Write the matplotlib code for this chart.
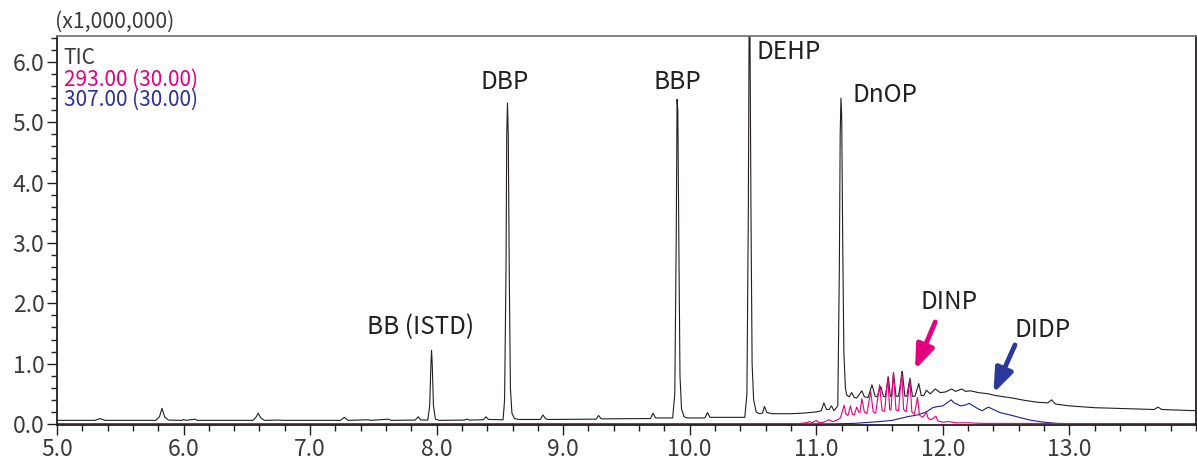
import matplotlib
matplotlib.use("Agg")
import matplotlib.pyplot as plt
from matplotlib.ticker import MultipleLocator, FormatStrFormatter

plt.rcParams['font.family'] = ['Noto Sans CJK JP', 'DejaVu Sans']

# TIC trace (retention time in min, intensity x1,000,000)
tic_t = [5.00, 5.30, 5.34, 5.38, 5.78, 5.81, 5.83, 5.85, 5.88, 5.99, 6.00, 6.02, 6.09, 6.11,
         6.55, 6.575, 6.59, 6.61, 6.64, 6.75, 6.80, 7.24, 7.27, 7.30, 7.46, 7.48, 7.62, 7.64,
         7.83, 7.855, 7.875, 7.93, 7.945, 7.955, 7.96, 7.965, 7.975, 7.99, 8.02,
         8.22, 8.24, 8.26, 8.37, 8.39, 8.41,
         8.525, 8.537, 8.548, 8.554, 8.56, 8.566, 8.574, 8.583, 8.595, 8.615, 8.65,
         8.82, 8.84, 8.86, 8.88, 9.26, 9.28, 9.30, 9.69, 9.71, 9.73,
         9.865, 9.882, 9.893, 9.90, 9.906, 9.914, 9.923, 9.935, 9.955, 9.98,
         10.12, 10.14, 10.16,
         10.435, 10.452, 10.463, 10.47, 10.476, 10.484, 10.493, 10.505, 10.525, 10.55,
         10.575, 10.59, 10.61, 10.65, 10.80, 10.90, 11.00, 11.04, 11.06, 11.08, 11.10,
         11.12, 11.14, 11.17, 11.182, 11.189, 11.195, 11.201, 11.209, 11.218, 11.23,
         11.24, 11.26, 11.28, 11.30, 11.32, 11.36, 11.38, 11.41, 11.44, 11.465, 11.48,
         11.51, 11.53, 11.545, 11.57, 11.585, 11.595, 11.61, 11.63, 11.65, 11.68, 11.70,
         11.715, 11.74, 11.76, 11.78, 11.81, 11.83, 11.85, 11.87, 11.90, 11.94, 11.98,
         12.02, 12.07, 12.10, 12.15, 12.18, 12.22, 12.28, 12.36, 12.42, 12.55, 12.65,
         12.75, 12.83, 12.86, 12.89, 13.00, 13.20, 13.50, 13.67, 13.70, 13.73, 14.00]
tic_v = [0.06, 0.06, 0.09, 0.06, 0.06, 0.12, 0.26, 0.12, 0.065, 0.06, 0.075, 0.06, 0.08, 0.06,
         0.06, 0.12, 0.18, 0.10, 0.06, 0.065, 0.06, 0.06, 0.11, 0.06, 0.07, 0.06, 0.08, 0.06,
         0.065, 0.12, 0.065, 0.065, 0.30, 1.00, 1.22, 1.00, 0.30, 0.08, 0.06,
         0.065, 0.08, 0.065, 0.07, 0.12, 0.075,
         0.07, 0.40, 2.50, 4.80, 5.32, 4.80, 2.50, 0.60, 0.18, 0.09, 0.075,
         0.075, 0.15, 0.09, 0.075, 0.08, 0.14, 0.085, 0.09, 0.18, 0.10,
         0.10, 0.50, 3.00, 5.38, 5.20, 3.00, 0.80, 0.25, 0.12, 0.10,
         0.10, 0.19, 0.11,
         0.11, 0.50, 3.50, 7.00, 6.50, 3.50, 1.00, 0.40, 0.20, 0.17,
         0.18, 0.29, 0.19, 0.17, 0.17, 0.18, 0.20, 0.22, 0.35, 0.24, 0.24,
         0.30, 0.22, 0.30, 2.50, 4.80, 5.40, 5.10, 3.00, 1.20, 0.60,
         0.48, 0.45, 0.52, 0.44, 0.43, 0.55, 0.45, 0.44, 0.65, 0.46, 0.45,
         0.62, 0.46, 0.45, 0.78, 0.46, 0.46, 0.85, 0.46, 0.46, 0.87, 0.46,
         0.46, 0.76, 0.46, 0.46, 0.67, 0.47, 0.47, 0.56, 0.50, 0.58, 0.52,
         0.53, 0.58, 0.54, 0.58, 0.54, 0.55, 0.52, 0.50, 0.47, 0.43, 0.39,
         0.36, 0.35, 0.40, 0.33, 0.30, 0.27, 0.25, 0.24, 0.28, 0.24, 0.22]

# m/z 293.00 trace
mz293_t = [5.00, 10.85, 10.92, 10.95, 10.97, 11.00, 11.02, 11.06, 11.10, 11.13, 11.16, 11.19,
           11.205, 11.22, 11.235, 11.25, 11.27, 11.285, 11.30, 11.32, 11.335, 11.345, 11.36,
           11.38, 11.40, 11.43, 11.45, 11.47, 11.50, 11.52, 11.54, 11.565, 11.58, 11.59,
           11.61, 11.63, 11.65, 11.675, 11.69, 11.71, 11.74, 11.755, 11.775, 11.80, 11.815,
           11.84, 11.87, 11.885, 11.91, 11.945, 11.96, 12.00, 12.05, 12.10, 12.20, 12.30, 14.00]
mz293_v = [0.005, 0.005, 0.02, 0.04, 0.02, 0.06, 0.02, 0.03, 0.07, 0.04, 0.06, 0.10,
           0.20, 0.31, 0.16, 0.14, 0.30, 0.16, 0.15, 0.28, 0.20, 0.19, 0.42,
           0.20, 0.17, 0.54, 0.20, 0.18, 0.65, 0.22, 0.21, 0.78, 0.24, 0.23,
           0.85, 0.23, 0.22, 0.87, 0.24, 0.20, 0.74, 0.20, 0.16, 0.44, 0.15,
           0.11, 0.19, 0.09, 0.07, 0.13, 0.05, 0.03, 0.04, 0.02, 0.02, 0.01, 0.005]

# m/z 307.00 trace
mz307_t = [5.00, 11.15, 11.30, 11.50, 11.60, 11.72, 11.80, 11.87, 11.92, 11.96, 12.00, 12.04,
           12.065, 12.09, 12.11, 12.14, 12.17, 12.21, 12.24, 12.28, 12.31, 12.36, 12.40,
           12.45, 12.55, 12.62, 12.70, 12.80, 12.90, 13.00, 14.00]
mz307_v = [0.003, 0.003, 0.01, 0.04, 0.06, 0.12, 0.15, 0.20, 0.27, 0.29, 0.30, 0.36,
           0.40, 0.35, 0.33, 0.30, 0.31, 0.34, 0.30, 0.25, 0.22, 0.28, 0.24,
           0.19, 0.14, 0.10, 0.06, 0.03, 0.01, 0.005, 0.003]

# peak labels: text, x, y, horizontal alignment
peak_names = ['BB (ISTD)', 'DBP', 'BBP', 'DEHP', 'DnOP', 'DINP', 'DIDP']
peak_x = [7.875, 8.54, 9.90, 10.53, 11.29, 12.05, 12.79]
peak_y = [1.60, 5.67, 5.67, 6.17, 5.46, 2.02, 1.56]
peak_ha = ['center', 'center', 'center', 'left', 'left', 'center', 'center']

dark = '#231f20'
pink = '#e4007f'
blue = '#1d2088'

fig = plt.figure(figsize=(11.97, 4.65), dpi=100)
ax = fig.add_axes([0.0476, 0.086, 0.9515, 0.8366])

ax.plot(tic_t, tic_v, color=dark, lw=0.8)
ax.plot(mz307_t, mz307_v, color=blue, lw=0.8)
ax.plot(mz293_t, mz293_v, color=pink, lw=0.8)

ax.set_xlim(5.0, 14.0)
ax.set_ylim(-0.017, 6.43)
ax.xaxis.set_minor_locator(MultipleLocator(0.2))
ax.yaxis.set_major_locator(MultipleLocator(1.0))
ax.yaxis.set_minor_locator(MultipleLocator(0.2))
ax.xaxis.set_major_formatter(FormatStrFormatter('%.1f'))
ax.yaxis.set_major_formatter(FormatStrFormatter('%.1f'))
ax.set_xticks([5, 6, 7, 8, 9, 10, 11, 12, 13])
ax.tick_params(which='major', length=7, width=1, color=dark, labelsize=16.5, labelcolor='#3a3a3a', pad=2)
ax.tick_params(which='minor', length=4, width=1, color=dark)

for s in ['left', 'right', 'bottom']:
    ax.spines[s].set_color(dark)
    ax.spines[s].set_linewidth(1.3)
ax.spines['top'].set_color('#777777')
ax.spines['top'].set_linewidth(1.3)

fig.text(0.046, 0.953, '(x1,000,000)', fontsize=15.3, color='#3a3a3a', va='center', ha='left')
ax.text(0.006, 0.928, 'TIC', transform=ax.transAxes, fontsize=15, color='#3a3a3a', va='baseline')
ax.text(0.006, 0.873, '293.00 (30.00)', transform=ax.transAxes, fontsize=15, color=pink, va='baseline')
ax.text(0.006, 0.820, '307.00 (30.00)', transform=ax.transAxes, fontsize=15, color='#2e3192', va='baseline')

for name, x, y, ha in zip(peak_names, peak_x, peak_y, peak_ha):
    ax.text(x, y, name, fontsize=17.5, color=dark, ha=ha, va='center')

ax.annotate('', xy=(11.78, 0.90), xytext=(11.94, 1.69),
            arrowprops=dict(arrowstyle='-|>,head_length=0.45,head_width=0.17', color=pink,
                            lw=3.5, mutation_scale=32, shrinkA=0, shrinkB=0))
ax.annotate('', xy=(12.40, 0.51), xytext=(12.57, 1.31),
            arrowprops=dict(arrowstyle='-|>,head_length=0.45,head_width=0.17', color='#2b3a9a',
                            lw=3.5, mutation_scale=32, shrinkA=0, shrinkB=0))

fig.savefig('out.png', dpi=100)
